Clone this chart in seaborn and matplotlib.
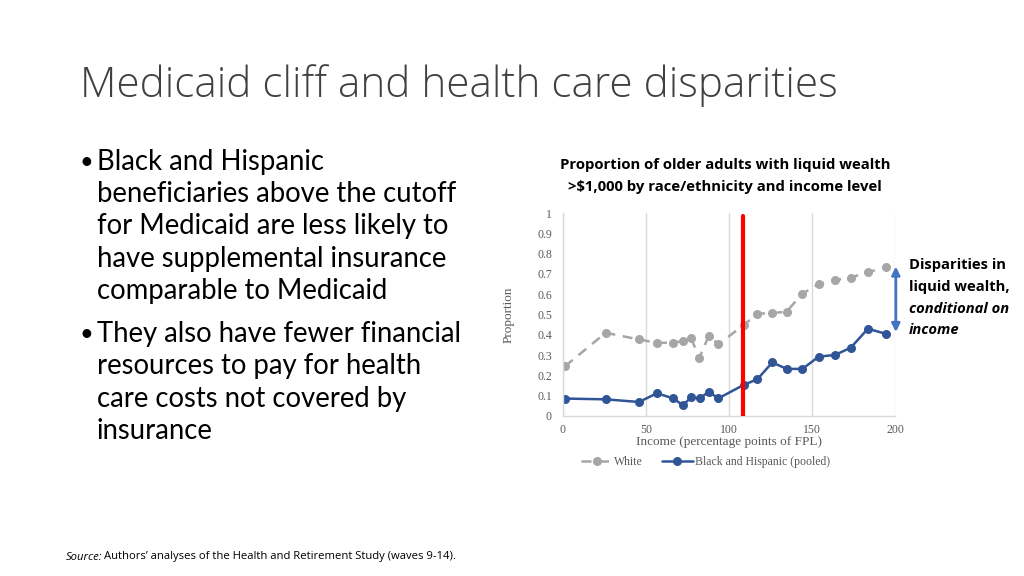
import matplotlib
matplotlib.use("Agg")
import matplotlib.pyplot as plt
import seaborn as sns
import pandas as pd
import numpy as np

# ---- data ----
white_x = [1.2, 25.7, 45.8, 56.6, 66.3, 72.3, 77.1, 82.1, 87.8, 93.6, 108.8, 117.1, 126.1, 134.7, 144.2, 154.0, 163.9, 173.3, 183.7, 194.4]
white_y = [0.245, 0.41, 0.377, 0.36, 0.362, 0.369, 0.384, 0.287, 0.395, 0.353, 0.448, 0.504, 0.507, 0.514, 0.603, 0.649, 0.669, 0.682, 0.708, 0.733]
bh_x = [1.2, 25.9, 45.8, 56.6, 66.3, 72.3, 77.1, 82.3, 87.8, 93.6, 108.8, 117.1, 126.1, 134.7, 144.2, 154.0, 163.9, 173.3, 183.7, 194.4]
bh_y = [0.086, 0.082, 0.069, 0.112, 0.087, 0.053, 0.092, 0.087, 0.119, 0.087, 0.153, 0.181, 0.264, 0.232, 0.232, 0.292, 0.301, 0.336, 0.43, 0.405]
series_names = ["White", "Black and Hispanic (pooled)"]
cutoff = 108.5
x_ticks = [0, 50, 100, 150, 200]
y_ticks = [0, 0.1, 0.2, 0.3, 0.4, 0.5, 0.6, 0.7, 0.8, 0.9, 1]
y_tick_labels = ["0", "0.1", "0.2", "0.3", "0.4", "0.5", "0.6", "0.7", "0.8", "0.9", "1"]

df = pd.DataFrame({
    "x": white_x + bh_x,
    "y": white_y + bh_y,
    "group": [series_names[0]] * len(white_x) + [series_names[1]] * len(bh_x),
})

sns.set_theme(style="white")
plt.rcParams["font.family"] = ["Liberation Serif", "DejaVu Serif"]

fig = plt.figure(figsize=(10.24, 5.76), dpi=100)
fig.patch.set_facecolor("white")

# slide title
fig.text(80 / 1024, 1 - 86 / 576, "Medicaid cliff and health care disparities",
         family="Open Sans", weight=300, fontsize=30.4, color="#404040", va="center", ha="left")

# bullets
bullet_lines = [
    (162, "•", "Black and Hispanic"),
    (194, "", "beneficiaries above the cutoff"),
    (226, "", "for Medicaid are less likely to"),
    (259, "", "have supplemental insurance"),
    (291, "", "comparable to Medicaid"),
    (334, "•", "They also have fewer financial"),
    (366, "", "resources to pay for health"),
    (399, "", "care costs not covered by"),
    (431, "", "insurance"),
]
for yy, b, t in bullet_lines:
    if b:
        fig.text(79 / 1024, 1 - yy / 576, b, family="Lato", fontsize=17, color="black", va="center", ha="left")
    fig.text(97 / 1024, 1 - yy / 576, t, family="Lato", fontsize=19.8, color="black", va="center", ha="left")

# chart title
fig.text(725 / 1024, 1 - 165 / 576, "Proportion of older adults with liquid wealth",
         family="Open Sans", weight="bold", fontsize=10.75, color="black", ha="center", va="center")
fig.text(725 / 1024, 1 - 187 / 576, ">$1,000 by race/ethnicity and income level",
         family="Open Sans", weight="bold", fontsize=10.75, color="black", ha="center", va="center")

ax = fig.add_axes([563 / 1024, 1 - 416 / 576, (895 - 563) / 1024, (416 - 213) / 576])

sns.lineplot(data=df, x="x", y="y", hue="group", style="group",
             palette={series_names[0]: "#A6A6A6", series_names[1]: "#2F5597"},
             dashes={series_names[0]: (4, 3), series_names[1]: ""},
             markers={series_names[0]: "o", series_names[1]: "o"},
             markersize=6.5, linewidth=1.8, markeredgewidth=0, ax=ax, legend=True)

ax.axvline(cutoff, ymin=0, ymax=0.985, color="#FF0000", linewidth=3, zorder=5)

ax.set_xlim(0, 200)
ax.set_ylim(0, 1)
ax.set_xticks(x_ticks)
ax.set_xticklabels([str(v) for v in x_ticks])
ax.set_yticks(y_ticks)
ax.set_yticklabels(y_tick_labels)
ax.tick_params(axis="both", length=0, labelsize=8.5, colors="#595959")
ax.tick_params(axis="x", pad=6)
ax.tick_params(axis="y", pad=8)
ax.grid(axis="x", color="#D9D9D9", linewidth=1)
ax.grid(axis="y", visible=False)
for s in ["top", "right"]:
    ax.spines[s].set_visible(False)
for s in ["left", "bottom"]:
    ax.spines[s].set_color("#D9D9D9")
    ax.spines[s].set_linewidth(1)
ax.set_xlabel("Income (percentage points of FPL)", fontsize=9.5, color="#595959", labelpad=0)
ax.set_ylabel("Proportion", fontsize=9.5, color="#595959", labelpad=16)

leg = ax.legend(loc="upper center", bbox_to_anchor=(0.43, -0.145), ncol=2, frameon=False,
                fontsize=8.5, handlelength=2.6, columnspacing=1.6, handletextpad=0.2)
for t in leg.get_texts():
    t.set_color("#595959")

# disparity arrow
ax.annotate("", xy=(200.5, 0.40), xytext=(200.5, 0.75),
            xycoords="data", textcoords="data",
            arrowprops=dict(arrowstyle="<|-|>", color="#4472C4", lw=2, mutation_scale=12),
            annotation_clip=False)

ann = [(265, "Disparities in", "normal"), (287, "liquid wealth,", "normal"),
       (309, "conditional on", "italic"), (330, "income", "italic")]
for yy, t, st in ann:
    fig.text(909 / 1024, 1 - yy / 576, t, family="Open Sans", weight="bold", style=st,
             fontsize=10.6, color="black", ha="left", va="center")

# source
fig.text(66 / 1024, 1 - 557 / 576, "Source:", family="Open Sans", style="italic",
         fontsize=8.1, color="black", ha="left", va="center")
fig.text(104 / 1024, 1 - 557 / 576, "Authors\u2019 analyses of the Health and Retirement Study (waves 9-14).",
         family="Open Sans", fontsize=8.1, color="black", ha="left", va="center")

fig.savefig("out.png", dpi=100, facecolor="white")
